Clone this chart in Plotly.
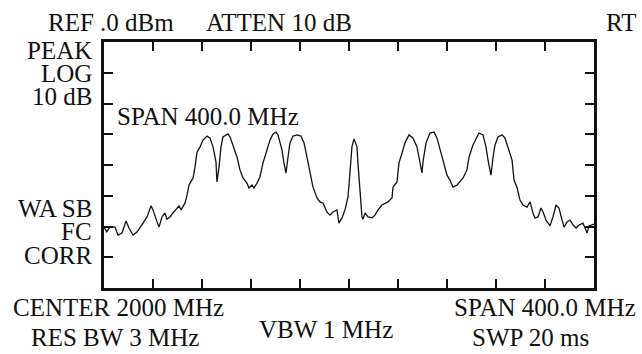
import plotly.graph_objects as go

# Spectrum trace (frequency in MHz, level in dBm)
freq_mhz = [
    1800.0, 1802.2, 1804.9, 1809.0, 1811.4, 1814.7, 1818.0, 1820.4, 1823.7, 1826.9,
    1831.0, 1835.1, 1838.4, 1840.0, 1843.3, 1844.9, 1847.3, 1849.8, 1851.4, 1853.9,
    1856.3, 1859.6, 1861.2, 1862.9, 1866.1, 1867.8, 1869.4, 1872.7, 1874.3, 1875.9,
    1878.4, 1880.8, 1884.1, 1886.5, 1889.0, 1891.4, 1892.2, 1893.9, 1895.5, 1897.1,
    1901.2, 1902.9, 1905.3, 1908.6, 1911.0, 1913.5, 1916.7, 1918.4, 1920.8, 1922.4,
    1924.9, 1927.3, 1929.8, 1933.1, 1935.5, 1938.0, 1940.4, 1942.0, 1945.3, 1946.9,
    1948.6, 1950.2, 1951.8, 1954.3, 1957.6, 1960.8, 1963.3, 1965.7, 1968.2, 1970.6,
    1973.9, 1976.3, 1978.8, 1982.0, 1984.5, 1986.9, 1990.2, 1991.8, 1994.3, 1996.7,
    1999.2, 2000.8, 2002.4, 2004.1, 2006.5, 2007.3, 2009.0, 2010.6, 2011.4, 2013.1,
    2015.5, 2018.8, 2021.2, 2023.7, 2026.9, 2029.4, 2031.8, 2035.1, 2035.9, 2039.2,
    2040.8, 2043.3, 2045.7, 2049.0, 2052.2, 2055.5, 2057.1, 2059.6, 2060.4, 2062.9,
    2066.1, 2069.4, 2071.8, 2075.1, 2077.6, 2080.0, 2082.4, 2084.9, 2088.2, 2090.6,
    2093.1, 2096.3, 2098.0, 2101.2, 2103.7, 2106.1, 2109.4, 2111.8, 2113.5, 2115.9,
    2117.6, 2119.2, 2121.6, 2124.9, 2127.3, 2129.8, 2133.1, 2134.7, 2137.1, 2139.6,
    2142.0, 2145.3, 2147.8, 2150.2, 2151.8, 2154.3, 2156.7, 2158.4, 2160.8, 2164.1,
    2166.5, 2169.0, 2171.4, 2173.9, 2175.5, 2178.0, 2180.4, 2182.9, 2185.3, 2187.8,
    2191.0, 2192.7, 2194.3, 2195.9, 2198.4, 2200.0,
]
level_dbm = [
    -60.2, -61.7, -60.2, -60.2, -62.8, -62.1, -58.2, -60.5, -62.8, -61.8,
    -59.5, -56.9, -53.3, -54.6, -58.5, -60.2, -56.9, -55.6, -57.6, -56.9,
    -55.6, -54.0, -53.3, -54.6, -52.4, -49.8, -46.5, -44.2, -40.7, -35.8,
    -34.1, -31.9, -30.6, -31.2, -34.1, -39.0, -45.5, -40.7, -34.1, -30.9,
    -29.9, -30.9, -33.5, -37.4, -41.6, -44.2, -45.9, -47.5, -46.5, -47.5,
    -45.9, -43.9, -39.3, -35.1, -31.9, -29.9, -29.3, -30.2, -35.1, -39.3,
    -42.6, -37.4, -32.8, -30.6, -30.2, -30.6, -32.8, -37.4, -42.6, -47.2,
    -50.7, -52.0, -52.4, -55.3, -56.3, -55.3, -54.6, -58.9, -57.2, -54.6,
    -50.4, -41.6, -34.1, -31.5, -34.1, -39.3, -49.1, -56.9, -57.6, -55.6,
    -56.9, -57.2, -56.3, -54.6, -53.0, -52.4, -52.0, -50.7, -47.2, -45.5,
    -39.3, -36.1, -32.8, -30.2, -31.2, -34.1, -37.4, -42.6, -39.0, -32.8,
    -29.6, -29.3, -31.2, -35.8, -40.0, -43.3, -44.9, -47.2, -46.5, -45.5,
    -44.2, -41.6, -37.4, -33.5, -31.2, -29.6, -30.2, -34.1, -38.4, -43.3,
    -37.4, -33.5, -30.9, -30.2, -31.2, -34.1, -38.4, -44.9, -47.2, -51.4,
    -53.0, -53.7, -52.0, -55.6, -57.2, -56.9, -54.0, -55.3, -57.9, -59.8,
    -56.9, -53.0, -54.0, -57.9, -60.2, -58.5, -57.9, -59.5, -60.5, -59.5,
    -58.9, -60.5, -62.1, -59.8, -59.5, -59.2,
]

x_range = [1800, 2200]   # CENTER 2000 MHz, SPAN 400 MHz
y_range = [-80, 0]       # REF .0 dBm, 10 dB/div
x_div = 40
y_div = 10

header_texts = ["REF .0 dBm", "ATTEN 10 dB", "RT"]
left_texts = ["PEAK", "LOG", "10 dB", "WA SB", "FC", "CORR"]
inner_text = "SPAN 400.0 MHz"
footer_texts = ["CENTER 2000 MHz", "RES BW 3 MHz", "VBW 1 MHz", "SPAN 400.0 MHz", "SWP 20 ms"]

W, H = 642, 354
L, R, T, B = 104, 594, 42, 288

def px(x):
    return (x - L) / (R - L)

def py(y):
    return (B - y) / (B - T)

fig = go.Figure()
fig.add_trace(go.Scatter(x=freq_mhz, y=level_dbm, mode="lines",
                         line=dict(color="#111111", width=1.3), hoverinfo="skip"))

FONT = dict(family="Liberation Serif", size=25, color="#111111")

ann = []
def add(text, x, y, xanchor="left", yanchor="middle", height=None):
    a = dict(text=text, x=px(x), y=py(y), xref="paper", yref="paper",
             xanchor=xanchor, yanchor=yanchor, showarrow=False, font=FONT)
    if height is not None:
        a["height"] = height
        a["borderpad"] = 0
    ann.append(a)

add(header_texts[0], 46, 22)
add(header_texts[1], 204, 22)
add(header_texts[2], 638, 22, xanchor="right")
add(left_texts[0], 93, 50, xanchor="right", height=22)
add(left_texts[1], 93, 73, xanchor="right", height=22)
add(left_texts[2], 93, 96, xanchor="right", height=22)
add(left_texts[3], 93, 208, xanchor="right", height=22)
add(left_texts[4], 93, 231, xanchor="right", height=22)
add(left_texts[5], 93, 255, xanchor="right", height=22)
add(inner_text, 115, 116)
add(footer_texts[0], 11, 307)
add(footer_texts[1], 29, 337)
add(footer_texts[2], 326, 329, xanchor="center")
add(footer_texts[3], 638, 307, xanchor="right")
add(footer_texts[4], 530, 337, xanchor="center")

axis_common = dict(showgrid=False, zeroline=False, showticklabels=False,
                   ticks="inside", ticklen=9, tickwidth=1.5, tickcolor="#111111",
                   showline=True, linecolor="#111111", linewidth=2.5, mirror="allticks")

fig.update_layout(
    width=W, height=H,
    margin=dict(l=L, r=W - R, t=T, b=H - B, pad=0),
    paper_bgcolor="white", plot_bgcolor="white",
    showlegend=False,
    xaxis=dict(range=x_range, dtick=x_div, tick0=x_range[0], **axis_common),
    yaxis=dict(range=y_range, dtick=y_div, tick0=y_range[0], **axis_common),
    annotations=ann,
)

fig.write_html("out.html")
